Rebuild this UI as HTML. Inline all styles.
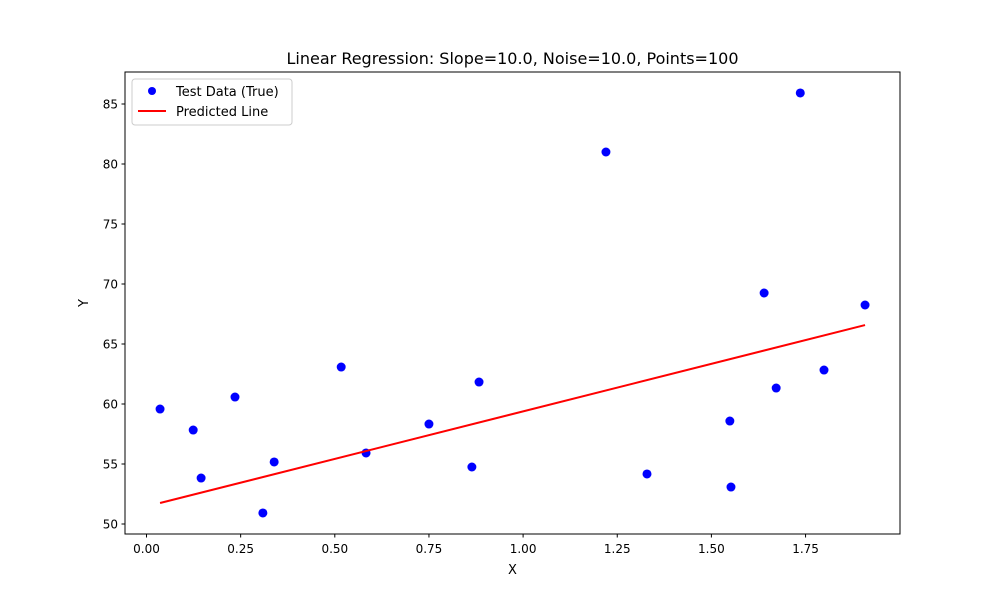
<!DOCTYPE html>
<html><head><meta charset="utf-8"><style>
body{margin:0;background:#fff;font-family:"Liberation Sans","DejaVu Sans",sans-serif;}
svg text{font-family:"DejaVu Sans","Liberation Sans",sans-serif;}
</style></head><body>
<svg id="chart" width="1000" height="600" xmlns="http://www.w3.org/2000/svg">
<rect width="1000" height="600" fill="#fff"/>
<text x="512.5" y="64" font-size="16" text-anchor="middle">Linear Regression: Slope=10.0, Noise=10.0, Points=100</text>
<g id="plot"></g>
<rect x="125" y="72" width="775" height="462" fill="none" stroke="#000" stroke-width="1"/>
<text x="512.5" y="574" font-size="13" text-anchor="middle">X</text>
<text x="88" y="303" font-size="13" text-anchor="middle" transform="rotate(-90 88 303)">Y</text>
<g>
<rect x="132" y="79" width="160" height="46" rx="3" fill="#fff" stroke="#ccc"/>
<circle cx="152" cy="91" r="4" fill="#0000ff"/>
<text x="176" y="96" font-size="13">Test Data (True)</text>
<line x1="138" y1="111" x2="166" y2="111" stroke="#ff0000" stroke-width="2"/>
<text x="176" y="116" font-size="13">Predicted Line</text>
</g>
</svg>
<script>
const xs=[0.036,0.124,0.145,0.235,0.309,0.339,0.517,0.583,0.750,0.864,0.883,1.220,1.329,1.549,1.552,1.640,1.672,1.736,1.799,1.908];
const ys=[59.58,57.83,53.83,60.58,50.92,55.17,63.08,55.92,58.33,54.75,61.83,81.0,54.17,58.58,53.08,69.25,61.33,85.92,62.83,68.25];
const lineX=[0.036,1.908];
const lineY=[51.75,66.58];
const xTicks=[0,0.25,0.5,0.75,1.0,1.25,1.5,1.75];
const xTickLabels=["0.00","0.25","0.50","0.75","1.00","1.25","1.50","1.75"];
const yTicks=[50,55,60,65,70,75,80,85];
const yTickLabels=["50","55","60","65","70","75","80","85"];
const sx=v=>146.5+376.6*v;
const sy=v=>524-12*(v-50);
const NS="http://www.w3.org/2000/svg";
const g=document.getElementById('plot');
function mk(t,a){const e=document.createElementNS(NS,t);for(const k in a)e.setAttribute(k,a[k]);g.appendChild(e);return e;}
xTicks.forEach((t,i)=>{
 const l=mk('line',{x1:sx(t),x2:sx(t),y1:534,y2:537.5,stroke:'#000'});
 
 
 const tx=mk('text',{x:sx(t),y:553,'font-size':12,'text-anchor':'middle'});
 tx.textContent=xTickLabels[i];
 
 
});
yTicks.forEach((t,i)=>{
 const l=mk('line',{x1:121.5,x2:125,y1:sy(t),y2:sy(t),stroke:'#000'});
 
 
 const tx=mk('text',{x:118,y:sy(t)+4.5,'font-size':12,'text-anchor':'end'});
 tx.textContent=yTickLabels[i];
 
 
});
xs.forEach((x,i)=>{
 const c=mk('circle',{cx:sx(x),cy:sy(ys[i]),r:4.5,fill:'#0000ff'});
 
 
});
const pl=mk('line',{x1:sx(lineX[0]),y1:sy(lineY[0]),x2:sx(lineX[1]),y2:sy(lineY[1]),stroke:'#ff0000','stroke-width':2});


</script>
</body></html>
